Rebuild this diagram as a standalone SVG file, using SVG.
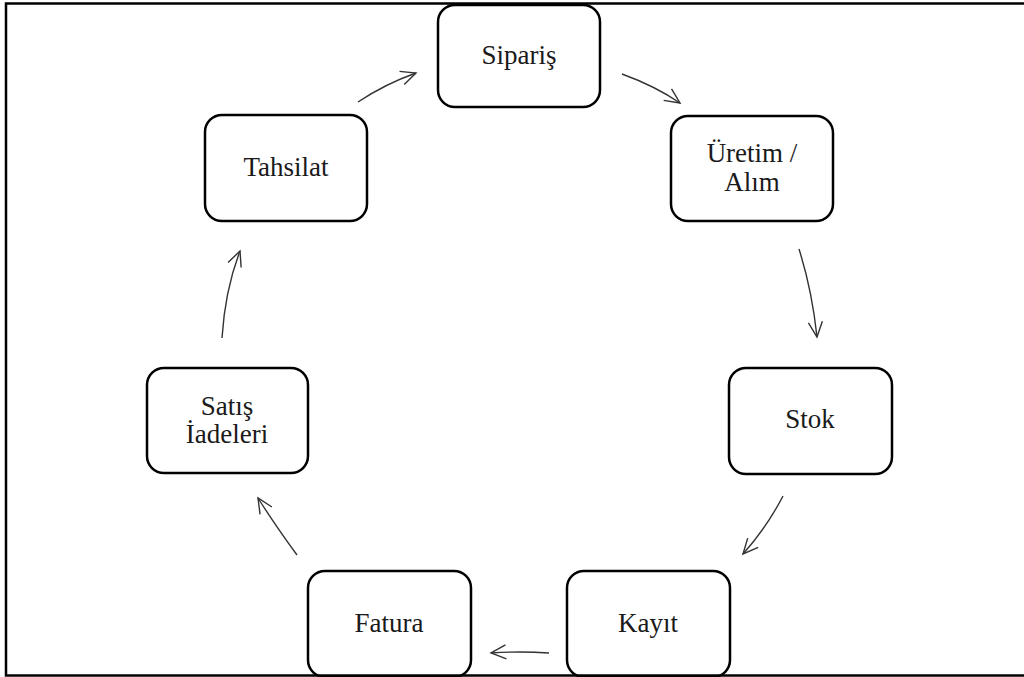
<svg xmlns="http://www.w3.org/2000/svg" width="1024" height="677" viewBox="0 0 1024 677">
<defs>
<style>
.box{fill:#fff;stroke:#000;stroke-width:2.5}
.lbl{font-family:"Liberation Serif","Times New Roman",serif;font-size:27px;fill:#1a1a1a;text-anchor:middle}
.edge{fill:none;stroke:#333;stroke-width:1.4}
</style>
<marker id="ah" markerUnits="userSpaceOnUse" markerWidth="30" markerHeight="30" refX="0" refY="0" viewBox="-20 -15 30 30" orient="auto">
<path d="M -15 -7 L 0 0 L -15 7" fill="none" stroke="#333" stroke-width="1.4"/>
</marker>
</defs>
<rect x="0" y="0" width="1024" height="677" fill="#fff"/>
<g id="connectors">
<path class="edge" marker-end="url(#ah)" d="M 358 102 Q 385 84 416 73"/>
<path class="edge" marker-end="url(#ah)" d="M 622 74 Q 655 86 680 103"/>
<path class="edge" marker-end="url(#ah)" d="M 799 249 Q 812 290 817 337"/>
<path class="edge" marker-end="url(#ah)" d="M 783 496 Q 767 527 743 554"/>
<path class="edge" marker-end="url(#ah)" d="M 549 653 Q 520 651 491 653"/>
<path class="edge" marker-end="url(#ah)" d="M 297 555 Q 275 525 258 498"/>
<path class="edge" marker-end="url(#ah)" d="M 222 338 Q 225 290 240 251"/>
</g>
<g id="siparis">
<rect class="box" x="438" y="5" width="162" height="102" rx="17"/>
<text class="lbl" x="519" y="64">Sipariş</text>
</g>
<g id="uretim">
<rect class="box" x="671" y="116" width="162" height="105" rx="17"/>
<text class="lbl" x="752" y="162">Üretim /</text>
<text class="lbl" x="752" y="191">Alım</text>
</g>
<g id="stok">
<rect class="box" x="729" y="368" width="163" height="106" rx="17"/>
<text class="lbl" x="810" y="428">Stok</text>
</g>
<g id="kayit">
<rect class="box" x="567" y="571" width="163" height="106" rx="17"/>
<text class="lbl" x="648" y="632">Kayıt</text>
</g>
<g id="fatura">
<rect class="box" x="308" y="571" width="163" height="106" rx="17"/>
<text class="lbl" x="389" y="632">Fatura</text>
</g>
<g id="satis-iadeleri">
<rect class="box" x="147" y="368" width="161" height="105" rx="17"/>
<text class="lbl" x="227" y="415">Satış</text>
<text class="lbl" x="227" y="443">İadeleri</text>
</g>
<g id="tahsilat">
<rect class="box" x="205" y="115" width="162" height="106" rx="17"/>
<text class="lbl" x="286" y="176">Tahsilat</text>
</g>
<path d="M 1030 3.5 L 6 3.5 L 6 675.5 L 1030 675.5" fill="none" stroke="#000" stroke-width="2.5"/>
</svg>
